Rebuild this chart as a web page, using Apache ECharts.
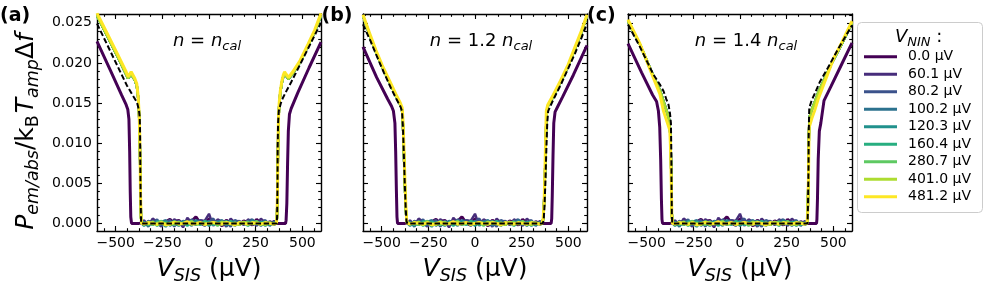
<!DOCTYPE html>
<html><head><meta charset="utf-8">
<script src="https://cdn.jsdelivr.net/npm/echarts@6/dist/echarts.min.js"></script>
<style>html,body{margin:0;padding:0;background:#fff}#c{width:997px;height:297px}</style>
</head><body><div id="c"></div>
<script>
// ---------------- DATA ----------------
const seriesNames = ['0.0 μV','60.1 μV','80.2 μV','100.2 μV','120.3 μV','160.4 μV','280.7 μV','401.0 μV','481.2 μV'];
const seriesColors = ['#440154','#472d7b','#3b528b','#2c728e','#21918c','#28ae80','#5ec962','#addc30','#fde725'];
const panelLabels = ['(a)','(b)','(c)'];
const panelFactors = ['', '1.2', '1.4'];
const xMajorTicks = [-500,-250,0,250,500];
const xMinorTicks = [-562.5,-500,-437.5,-375,-312.5,-250,-187.5,-125,-62.5,0,62.5,125,187.5,250,312.5,375,437.5,500,562.5];
const yMajorTicks = [0,0.005,0.01,0.015,0.02,0.025];
const yMinorTicks = [0,0.001,0.002,0.003,0.004,0.005,0.006,0.007,0.008,0.009,0.010,0.011,0.012,0.013,0.014,0.015,0.016,0.017,0.018,0.019,0.020,0.021,0.022,0.023,0.024,0.025,0.026];

// gap-region sample positions (µV) and readings of each curve there
const gapX = [-348,-325,-302,-278,-255,-232,-209,-186,-162,-139,-116,-93,-70,-46,-23,0,23,46,70,93,116,139,162,186,209,232,255,278,302,325,348];
const noise0 = [.0001,-.0002,.0003,0,-.0003,.0002,.0005,-.0001,.0004,-.0002,.0001,.0003,.0008,0,-.0002,.0006,.0002,.0001,-.0003,.0004,0,.0002,-.0001,.0003,.0001,-.0002,.0005,0,-.0001,.0002,0];
const noise1 = [.0004,-.0003,.0006,.0002,-.0004,.0003,-.0001,.0005,.0002,-.0005,.0007,.0001,-.0002,.0004,.0003,.0012,-.0003,.0005,.0002,-.0004,.0006,.0001,.0003,-.0002,.0005,.0002,-.0003,.0006,.0001,-.0002,.0003];
const noise2 = [-.0002,.0003,.0001,.0005,-.0003,.0002,.0004,-.0004,.0003,.0001,-.0002,.0005,.0002,.0004,-.0003,.0002,.0006,-.0002,.0003,.0001,-.0004,.0004,.0002,-.0001,.0003,.0005,-.0002,.0001,.0004,-.0003,.0002];
const noise3 = [.0002,-.0004,.0003,-.0001,.0002,.0004,-.0003,.0001,-.0002,.0003,.0002,-.0003,.0004,.0001,-.0002,.0003,-.0001,.0002,.0004,-.0003,.0001,.0003,-.0002,.0002,-.0001,.0004,.0001,-.0003,.0002,.0001,-.0002];
const noise4 = [-.0003,.0001,-.0002,.0003,.0001,-.0004,.0002,0,-.0003,.0002,.0001,-.0002,.0003,-.0001,.0002,-.0003,.0001,.0002,-.0002,.0003,0,-.0003,.0002,.0001,-.0002,.0003,-.0001,.0002,-.0003,.0001,0];
const noise5 = [.0001,-.0002,.0002,-.0003,0,.0002,-.0001,.0003,-.0002,.0001,-.0003,.0002,0,-.0002,.0003,.0001,-.0002,0,.0002,-.0001,.0003,-.0002,.0001,0,-.0003,.0002,-.0001,.0001,.0002,-.0002,.0001];
const noise6 = [-.0001,.0002,-.0002,.0001,.0003,-.0001,0,-.0002,.0002,-.0001,.0001,.0003,-.0002,0,.0001,-.0001,.0002,-.0003,.0001,.0002,-.0001,0,-.0002,.0001,.0002,-.0001,.0003,-.0002,0,.0001,-.0001];
const noise7 = [0,-.0001,.0002,-.0002,.0001,0,-.0002,.0002,.0001,-.0001,0,.0002,-.0001,.0001,-.0002,0,.0001,-.0001,.0002,0,-.0001,.0001,-.0002,.0002,0,-.0001,.0001,0,-.0002,.0001,0];
const noise8 = [-.0001,.0001,0,-.0001,.0001,-.0002,0,.0001,-.0001,0,.0002,-.0001,0,.0001,-.0001,0,.0001,0,-.0001,.0001,0,-.0002,.0001,0,-.0001,.0001,0,-.0001,.0001,0,-.0001];

// Panel (a): n = n_cal
const purpleL_a = [[-600,0.0227],[-527,0.0190],[-468,0.0160],[-444,0.0148],[-435,0.0142],[-429,0.0130],[-425,0.0090],[-422,0.0040],[-419,0.0008],[-415,0],[-375,0]];
const purpleR_a = [[375,0],[410,0],[413,0.0004],[417,0.0025],[421,0.0075],[425,0.0115],[431,0.0136],[440,0.0143],[476,0.0163],[536,0.0194],[600,0.0226]];
const midL_a = [[-600,0.0259],[-546,0.0234],[-488,0.0207],[-444,0.0186],[-434,0.0181],[-426,0.0182],[-417,0.0186],[-410,0.0185],[-398,0.0179],[-387,0.0172],[-380,0.0158],[-375,0.0138],[-372,0.0118],[-369,0.0078],[-367,0.0038],[-364,0.0007],[-361,0]];
const midR_a = [[361,0],[364,0.0007],[367,0.0038],[369,0.0082],[372,0.0126],[376,0.0147],[382,0.0163],[390,0.0175],[398,0.0183],[405,0.0187],[413,0.0184],[426,0.0180],[434,0.0182],[449,0.0187],[488,0.0201],[530,0.0221],[566,0.0239],[600,0.0259]];
const yellowL_a = [[-600,0.0262],[-546,0.0237],[-488,0.0210],[-444,0.0189],[-434,0.0183],[-426,0.0184],[-417,0.0189],[-410,0.0187],[-398,0.0181],[-387,0.0174],[-380,0.0160],[-375,0.0140],[-372,0.0120],[-369,0.0080],[-367,0.0040],[-364,0.0008],[-361,0]];
const yellowR_a = [[361,0],[364,0.0008],[367,0.0040],[369,0.0085],[372,0.0130],[376,0.0150],[382,0.0165],[390,0.0177],[398,0.0185],[405,0.0189],[413,0.0186],[426,0.0182],[434,0.0184],[449,0.0189],[488,0.0203],[530,0.0223],[566,0.0241],[600,0.0262]];
const dashedL_a = [[-600,0.0249],[-546,0.0223],[-488,0.0195],[-440,0.0172],[-410,0.0160],[-386,0.0151],[-376,0.0142],[-371,0.0132],[-369,0.0110],[-368,0.0070],[-366,0.0030],[-364,0.0005],[-363,0]];
const dashedR_a = [[363,0],[365,0.0010],[367,0.0050],[368,0.0095],[370,0.0125],[374,0.0140],[385,0.0150],[395,0.0156],[419,0.0167],[440,0.0176],[488,0.0198],[546,0.0225],[600,0.0250]];

// Panel (b): n = 1.2 n_cal
const purpleL_b = [[-600,0.0220],[-527,0.0182],[-468,0.0155],[-447,0.0146],[-437,0.0140],[-429,0.0125],[-425,0.0090],[-421,0.0040],[-418,0.0008],[-415,0],[-375,0]];
const purpleR_b = [[375,0],[408,0],[411,0.0006],[414,0.0035],[418,0.0085],[422,0.0125],[429,0.0139],[444,0.0146],[468,0.0157],[527,0.0185],[600,0.0222]];
const midL_b = [[-600,0.0259],[-566,0.0236],[-531,0.0214],[-497,0.0195],[-458,0.0176],[-424,0.0159],[-400,0.0148],[-391,0.0142],[-386,0.0123],[-381,0.0088],[-376,0.0049],[-371,0.0019],[-367,0.0004],[-362,0]];
const midR_b = [[360,0],[366,0.0006],[370,0.0026],[375,0.0061],[379,0.0100],[383,0.0138],[390,0.0146],[419,0.0158],[458,0.0176],[499,0.0196],[536,0.0218],[570,0.0238],[600,0.0259]];
const yellowL_b = [[-600,0.0260],[-566,0.0238],[-531,0.0216],[-497,0.0197],[-458,0.0178],[-424,0.0161],[-400,0.0150],[-390,0.0144],[-385,0.0125],[-380,0.0090],[-375,0.0050],[-370,0.0020],[-366,0.0004],[-362,0]];
const yellowR_b = [[360,0],[365,0.0006],[370,0.0025],[374,0.0060],[378,0.0100],[382,0.0140],[390,0.0148],[419,0.0160],[458,0.0178],[499,0.0198],[536,0.0220],[570,0.0240],[600,0.0260]];
const dashedL_b = [[-600,0.0248],[-561,0.0228],[-527,0.0209],[-488,0.0188],[-449,0.0168],[-419,0.0154],[-400,0.0146],[-391,0.0140],[-386,0.0120],[-381,0.0085],[-376,0.0048],[-371,0.0018],[-367,0.0003],[-363,0]];
const dashedR_b = [[363,0],[368,0.0004],[372,0.0020],[377,0.0050],[382,0.0090],[387,0.0125],[392,0.0140],[419,0.0154],[458,0.0172],[499,0.0193],[536,0.0212],[570,0.0231],[600,0.0249]];

// Panel (c): n = 1.4 n_cal
const purpleL_c = [[-600,0.0224],[-527,0.0188],[-468,0.0160],[-447,0.0152],[-437,0.0140],[-430,0.0120],[-425,0.0080],[-421,0.0030],[-418,0.0005],[-415,0],[-375,0]];
const purpleR_c = [[375,0],[410,0],[412,0.0005],[415,0.0030],[419,0.0080],[425,0.0115],[433,0.0125],[450,0.0153],[488,0.0171],[546,0.0199],[600,0.0225]];
const midL_c = [[-600,0.0252],[-536,0.0223],[-465,0.0184],[-429,0.0166],[-410,0.0152],[-390,0.0138],[-378,0.0128],[-372,0.0105],[-368,0.0060],[-366,0.0015],[-362,0]];
const midR_c = [[360,0],[363,0.0015],[367,0.0065],[369,0.0108],[372,0.0132],[385,0.0142],[399,0.0150],[419,0.0163],[449,0.0178],[488,0.0198],[546,0.0224],[600,0.0250]];
const yellowL_c = [[-600,0.0254],[-536,0.0224],[-465,0.0182],[-429,0.0161],[-410,0.0140],[-390,0.0126],[-376,0.0116],[-373,0.0100],[-368,0.0050],[-365,0.0010],[-362,0]];
const yellowR_c = [[359,0],[363,0.0015],[367,0.0060],[369,0.0100],[371,0.0120],[385,0.0131],[399,0.0140],[419,0.0155],[442,0.0169],[473,0.0188],[504,0.0207],[546,0.0226],[600,0.0252]];
const dashedL_c = [[-600,0.0248],[-536,0.0220],[-465,0.0186],[-429,0.0173],[-410,0.0165],[-395,0.0155],[-383,0.0148],[-375,0.0137],[-370,0.0125],[-368,0.0090],[-367,0.0050],[-365,0.0012],[-363,0]];
const dashedR_c = [[362,0],[364,0.0020],[367,0.0070],[368,0.0110],[371,0.0144],[385,0.0154],[399,0.0161],[429,0.0177],[471,0.0194],[527,0.0218],[600,0.0247]];

// ---------------- BUILD ----------------
const noises = [noise0,noise1,noise2,noise3,noise4,noise5,noise6,noise7,noise8];
const panels = [
  {pL:purpleL_a,pR:purpleR_a,mL:midL_a,mR:midR_a,yL:yellowL_a,yR:yellowR_a,dL:dashedL_a,dR:dashedR_a},
  {pL:purpleL_b,pR:purpleR_b,mL:midL_b,mR:midR_b,yL:yellowL_b,yR:yellowR_b,dL:dashedL_b,dR:dashedR_b},
  {pL:purpleL_c,pR:purpleR_c,mL:midL_c,mR:midR_c,yL:yellowL_c,yR:yellowR_c,dL:dashedL_c,dR:dashedR_c}
];
const gapPts = n => gapX.map((x,i)=>[x,n[i]]);

const FONT = 'DejaVu Sans';
const XMIN=-600, XMAX=600, YMIN=-0.00095, YMAX=0.0261;
const gridLefts=[97,363,628], GW=224, GT=14, GH=217;

const mctx = document.createElement('canvas').getContext('2d');
function tw(t,s,it,b){ mctx.font=(it?'italic ':'')+(b?'bold ':'')+s+'px "'+FONT+'"'; return mctx.measureText(t).width; }
function mathText(pieces,x,y,anchor,rotation){
  let w=0; const items=[];
  pieces.forEach(p=>{ items.push({p,x0:w}); w+=tw(p.t,p.s,p.it,p.b)+(p.gap||0); });
  const off = anchor==='center' ? -w/2 : (anchor==='right' ? -w : 0);
  return {type:'group', x, y, rotation: rotation||0, silent:true,
    children: items.map(({p,x0})=>({type:'text', x: off+x0, y:(p.dy||0)-0.3*p.s,
      style:{text:p.t, fontSize:p.s, fontFamily:FONT, fontStyle:p.it?'italic':'normal', fontWeight:p.b?'bold':'normal',
        fill:'#000', align:'left', verticalAlign:'middle', textAlign:'left', textVerticalAlign:'middle'}}))};
}

const grid=[], xAxis=[], yAxis=[], series=[], graphic=[];
const xFmt = v => v<0 ? '\u2212'+Math.abs(v) : String(v);
const lineBlack = {color:'#000', width:1.4};
function xAx(g,pos,major,label){
  return {gridIndex:g, type:'value', position:pos, min:XMIN, max:XMAX,
    axisLine:{show:major, onZero:false, lineStyle:lineBlack},
    axisTick:{show:true, inside:true, length: major?5:2.8, customValues: major?xMajorTicks:xMinorTicks, lineStyle:{color:'#000', width:1.1}},
    axisLabel:{show:label, customValues:xMajorTicks, formatter:xFmt, fontSize:14, fontFamily:FONT, color:'#000', margin:5},
    splitLine:{show:false}};
}
function yAx(g,pos,major,label){
  return {gridIndex:g, type:'value', position:pos, min:YMIN, max:YMAX,
    axisLine:{show:major, onZero:false, lineStyle:lineBlack},
    axisTick:{show:true, inside:true, length: major?5:2.8, customValues: major?yMajorTicks:yMinorTicks, lineStyle:{color:'#000', width:1.1}},
    axisLabel:{show:label, customValues:yMajorTicks, formatter:v=>v.toFixed(3), fontSize:14, fontFamily:FONT, color:'#000', margin:5},
    splitLine:{show:false}};
}

panels.forEach((P,p)=>{
  const gMain=2*p, gTwin=2*p+1;
  [gMain,gTwin].forEach(g=>grid.push({left:gridLefts[p], top:GT, width:GW, height:GH, containLabel:false, outerBoundsMode:'none'}));
  xAxis.push(xAx(gMain,'bottom',true,true), xAx(gMain,'top',true,false), xAx(gTwin,'bottom',false,false), xAx(gTwin,'top',false,false));
  yAxis.push(yAx(gMain,'left',true,p===0), yAx(gMain,'right',true,false), yAx(gTwin,'left',false,false), yAx(gTwin,'right',false,false));
  for(let i=0;i<9;i++){
    let L,R;
    if(i===0){L=P.pL;R=P.pR;} else if(i===8){L=P.yL;R=P.yR;} else {L=P.mL;R=P.mR;}
    series.push({type:'line', name:seriesNames[i], xAxisIndex:4*p, yAxisIndex:4*p,
      data:[...L, ...gapPts(noises[i]), ...R], symbol:'none', showSymbol:false, silent:true,
      lineStyle:{color:seriesColors[i], width:(i===0||i===8)?3:2.4}, itemStyle:{color:seriesColors[i]}, z:2+i*0.01});
  }
  series.push({type:'line', name:'model', xAxisIndex:4*p, yAxisIndex:4*p, data:[...P.dL, ...P.dR],
    symbol:'none', showSymbol:false, silent:true, lineStyle:{color:'#000', width:2, type:[5.5,2.6]}, itemStyle:{color:'#000'}, z:3});

  const cx = gridLefts[p]+GW/2;
  graphic.push(mathText([{t:'V',s:25,it:true},{t:'SIS',s:17.5,it:true,dy:5},{t:' (μV)',s:25}], cx, 277, 'center'));
  graphic.push(mathText([{t:panelLabels[p],s:19,b:true}], [0,321.5,587][p], 22, 'left'));
  const ann = panelFactors[p] ? [{t:'n',s:18,it:true},{t:' = '+panelFactors[p]+' ',s:18},{t:'n',s:18,it:true},{t:'cal',s:13,it:true,dy:4}]
                              : [{t:'n',s:18,it:true},{t:' = ',s:18},{t:'n',s:18,it:true},{t:'cal',s:13,it:true,dy:4}];
  graphic.push(mathText(ann, [207,481,746][p], 46.5, 'center'));
});

graphic.push(mathText([
  {t:'P',s:25,it:true},{t:'em/abs',s:17.5,it:true,dy:5},{t:'/k',s:25},{t:'B',s:17.5,dy:5,gap:2},
  {t:'T',s:25,it:true},{t:'amp',s:17.5,it:true,dy:5},{t:'Δ',s:25},{t:'f',s:25,it:true}
], 34, 131.5, 'center', Math.PI/2));

graphic.push({type:'rect', z:-10, silent:true, shape:{x:857.5,y:22.5,width:125,height:190,r:4}, style:{fill:'#fff', stroke:'#cccccc', lineWidth:1}});
graphic.push(mathText([{t:'V',s:18,it:true},{t:'NIN',s:13,it:true,dy:4},{t:' :',s:18}], 895, 43, 'left'));

const chart = echarts.init(document.getElementById('c'), null, {renderer:'canvas'});
chart.setOption({
  animation:false,
  backgroundColor:'#fff',
  grid, xAxis, yAxis, series, graphic,
  legend:{data:seriesNames, orient:'vertical', left:864, top:48, padding:0, itemGap:0, itemWidth:33, itemHeight:3, icon:'rect',
    selectedMode:false, textStyle:{fontSize:14, fontFamily:FONT, color:'#000', lineHeight:17.5, padding:[0,0,0,6]}}
});
</script></body></html>
